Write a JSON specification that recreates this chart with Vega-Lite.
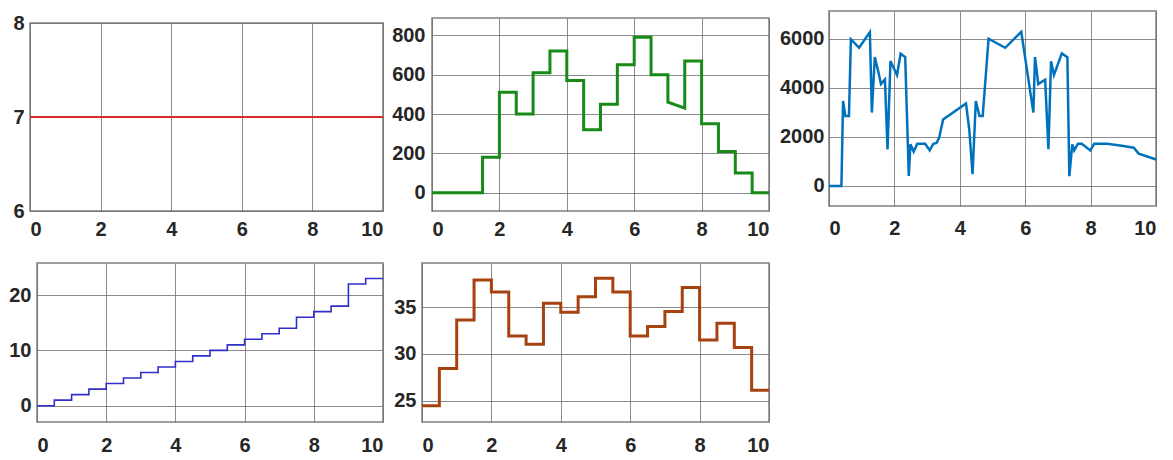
{
  "$schema": "https://vega.github.io/schema/vega-lite/v6.json",
  "background": "white",
  "padding": {"left": 0, "top": 10, "right": 0, "bottom": 0},
  "bounds": "full",
  "align": "none",
  "spacing": 22,
  "config": {
    "view": {"stroke": "#808080", "strokeWidth": 1.5},
    "axis": {
      "labelFont": "Liberation Sans",
      "labelFontSize": 20,
      "labelFontWeight": "bold",
      "labelColor": "#262626",
      "ticks": false,
      "tickSize": 0,
      "domain": false,
      "gridColor": "#6e6e6e",
      "gridWidth": 1,
      "gridOpacity": 0.8,
      "labelOverlap": false,
      "format": "d"
    }
  },
  "datasets": {
    "empty": [],
    "p1": [{"x": 0, "y": 7}, {"x": 10, "y": 7}],
    "p2": [
      {"i": 1, "x": 0, "y": 0}, {"i": 2, "x": 1.5, "y": 0}, {"i": 3, "x": 1.5, "y": 180}, {"i": 4, "x": 2, "y": 180},
      {"i": 5, "x": 2, "y": 510}, {"i": 6, "x": 2.5, "y": 510}, {"i": 7, "x": 2.5, "y": 400}, {"i": 8, "x": 3, "y": 400},
      {"i": 9, "x": 3, "y": 610}, {"i": 10, "x": 3.5, "y": 610}, {"i": 11, "x": 3.5, "y": 720}, {"i": 12, "x": 4, "y": 720},
      {"i": 13, "x": 4, "y": 570}, {"i": 14, "x": 4.5, "y": 570}, {"i": 15, "x": 4.5, "y": 320}, {"i": 16, "x": 5, "y": 320},
      {"i": 17, "x": 5, "y": 450}, {"i": 18, "x": 5.5, "y": 450}, {"i": 19, "x": 5.5, "y": 650}, {"i": 20, "x": 6, "y": 650},
      {"i": 21, "x": 6, "y": 790}, {"i": 22, "x": 6.5, "y": 790}, {"i": 23, "x": 6.5, "y": 600}, {"i": 24, "x": 7, "y": 600},
      {"i": 25, "x": 7, "y": 460}, {"i": 26, "x": 7.5, "y": 430}, {"i": 27, "x": 7.5, "y": 670}, {"i": 28, "x": 8, "y": 670},
      {"i": 29, "x": 8, "y": 350}, {"i": 30, "x": 8.5, "y": 350}, {"i": 31, "x": 8.5, "y": 210}, {"i": 32, "x": 9, "y": 210},
      {"i": 33, "x": 9, "y": 100}, {"i": 34, "x": 9.5, "y": 100}, {"i": 35, "x": 9.5, "y": 0}, {"i": 36, "x": 10, "y": 0}
    ],
    "p3": [
      {"x": 0, "y": 0}, {"x": 0.38, "y": 0}, {"x": 0.43, "y": 3460}, {"x": 0.5, "y": 2850}, {"x": 0.61, "y": 2850},
      {"x": 0.67, "y": 5980}, {"x": 0.92, "y": 5630}, {"x": 1.25, "y": 6270}, {"x": 1.31, "y": 2990}, {"x": 1.4, "y": 5250},
      {"x": 1.5, "y": 4700}, {"x": 1.59, "y": 4150}, {"x": 1.71, "y": 4340}, {"x": 1.79, "y": 1490}, {"x": 1.88, "y": 5090},
      {"x": 2.08, "y": 4520}, {"x": 2.19, "y": 5390}, {"x": 2.33, "y": 5250}, {"x": 2.44, "y": 410}, {"x": 2.49, "y": 1700},
      {"x": 2.59, "y": 1400}, {"x": 2.7, "y": 1720}, {"x": 2.94, "y": 1720}, {"x": 3.08, "y": 1450}, {"x": 3.19, "y": 1720},
      {"x": 3.29, "y": 1750}, {"x": 3.37, "y": 1970}, {"x": 3.49, "y": 2710}, {"x": 4.19, "y": 3360}, {"x": 4.29, "y": 2300},
      {"x": 4.39, "y": 480}, {"x": 4.49, "y": 3460}, {"x": 4.6, "y": 2850}, {"x": 4.7, "y": 2850}, {"x": 4.88, "y": 6000},
      {"x": 5.39, "y": 5630}, {"x": 5.88, "y": 6280}, {"x": 6.25, "y": 2990}, {"x": 6.3, "y": 5250}, {"x": 6.4, "y": 4150},
      {"x": 6.61, "y": 4330}, {"x": 6.71, "y": 1500}, {"x": 6.79, "y": 5080}, {"x": 6.88, "y": 4520}, {"x": 7.12, "y": 5400},
      {"x": 7.29, "y": 5250}, {"x": 7.35, "y": 400}, {"x": 7.44, "y": 1700}, {"x": 7.5, "y": 1450}, {"x": 7.61, "y": 1720},
      {"x": 7.73, "y": 1720}, {"x": 7.99, "y": 1450}, {"x": 8.11, "y": 1720}, {"x": 8.5, "y": 1720}, {"x": 8.9, "y": 1650},
      {"x": 9.32, "y": 1560}, {"x": 9.47, "y": 1320}, {"x": 9.98, "y": 1090}, {"x": 10, "y": 1080}
    ],
    "p4": [
      {"x": 0, "y": 0}, {"x": 0.5, "y": 1}, {"x": 1, "y": 2}, {"x": 1.5, "y": 3}, {"x": 2, "y": 4}, {"x": 2.5, "y": 5},
      {"x": 3, "y": 6}, {"x": 3.5, "y": 7}, {"x": 4, "y": 8}, {"x": 4.5, "y": 9}, {"x": 5, "y": 10}, {"x": 5.5, "y": 11},
      {"x": 6, "y": 12}, {"x": 6.5, "y": 13}, {"x": 7, "y": 14}, {"x": 7.5, "y": 16}, {"x": 8, "y": 17}, {"x": 8.5, "y": 18},
      {"x": 9, "y": 22}, {"x": 9.5, "y": 23}, {"x": 10, "y": 23}
    ],
    "p5": [
      {"x": 0, "y": 24.45}, {"x": 0.5, "y": 28.43}, {"x": 1, "y": 33.64}, {"x": 1.5, "y": 37.93}, {"x": 2, "y": 36.64},
      {"x": 2.5, "y": 31.93}, {"x": 3, "y": 31.04}, {"x": 3.5, "y": 35.43}, {"x": 4, "y": 34.46}, {"x": 4.5, "y": 36.14},
      {"x": 5, "y": 38.11}, {"x": 5.5, "y": 36.64}, {"x": 6, "y": 31.93}, {"x": 6.5, "y": 32.93}, {"x": 7, "y": 34.54},
      {"x": 7.5, "y": 37.11}, {"x": 8, "y": 31.5}, {"x": 8.5, "y": 33.29}, {"x": 9, "y": 30.68}, {"x": 9.5, "y": 26.1},
      {"x": 10, "y": 26.1}
    ]
  },
  "vconcat": [
    {
      "spacing": 0,
      "align": "none",
      "hconcat": [
        {"width": 1, "height": 1, "data": {"name": "empty"}, "mark": "point", "view": {"stroke": null}},
        {
          "spacing": 0,
          "align": "none",
          "vconcat": [
            {"width": 1, "height": 1, "data": {"name": "empty"}, "mark": "point", "view": {"stroke": null}},
            {
              "width": 353, "height": 188,
              "data": {"name": "p1"},
              "mark": {"type": "line", "color": "#d42a2a", "strokeWidth": 2},
              "encoding": {
                "x": {"field": "x", "type": "quantitative", "scale": {"domain": [0, 10], "nice": false}, "axis": {"title": null, "values": [0, 2, 4, 6, 8, 10], "labelPadding": 8}},
                "y": {"field": "y", "type": "quantitative", "scale": {"domain": [6, 8], "nice": false, "zero": false}, "axis": {"title": null, "values": [6, 7, 8], "labelPadding": 6, "minExtent": 28}}
              }
            }
          ]
        },
        {
          "spacing": 0,
          "align": "none",
          "vconcat": [
            {"width": 1, "height": 6, "data": {"name": "empty"}, "mark": "point", "view": {"stroke": null}},
            {
              "width": 337, "height": 193,
              "data": {"name": "p2"},
              "mark": {"type": "line", "color": "#178a17", "strokeWidth": 3},
              "encoding": {
                "x": {"field": "x", "type": "quantitative", "scale": {"domain": [0, 10], "nice": false}, "axis": {"title": null, "values": [0, 2, 4, 6, 8, 10], "labelPadding": 8}},
                "y": {"field": "y", "type": "quantitative", "scale": {"domain": [-93, 888], "nice": false, "zero": false}, "axis": {"title": null, "values": [0, 200, 400, 600, 800], "labelPadding": 7, "minExtent": 43}},
                "order": {"field": "i"}
              }
            }
          ]
        },
        {
          "width": 327, "height": 195,
          "data": {"name": "p3"},
          "mark": {"type": "line", "color": "#0072BD", "strokeWidth": 2.5},
          "encoding": {
            "x": {"field": "x", "type": "quantitative", "scale": {"domain": [0, 10], "nice": false}, "axis": {"title": null, "values": [0, 2, 4, 6, 8, 10], "labelPadding": 12}},
            "y": {"field": "y", "type": "quantitative", "scale": {"domain": [-815, 7128], "nice": false, "zero": false}, "axis": {"title": null, "values": [0, 2000, 4000, 6000], "labelPadding": 5, "minExtent": 52}}
          }
        }
      ]
    },
    {
      "spacing": 0,
      "align": "none",
      "hconcat": [
        {"width": 1, "height": 1, "data": {"name": "empty"}, "mark": "point", "view": {"stroke": null}},
        {
          "width": 346, "height": 159,
          "data": {"name": "p4"},
          "mark": {"type": "line", "color": "#2f2fcc", "strokeWidth": 1.6, "interpolate": "step-after"},
          "encoding": {
            "x": {"field": "x", "type": "quantitative", "scale": {"domain": [0, 10], "nice": false}, "axis": {"title": null, "values": [0, 2, 4, 6, 8, 10], "labelPadding": 13}},
            "y": {"field": "y", "type": "quantitative", "scale": {"domain": [-2.95, 25.8], "nice": false, "zero": false}, "axis": {"title": null, "values": [0, 10, 20], "labelPadding": 6, "minExtent": 35}}
          }
        },
        {
          "width": 347, "height": 159,
          "data": {"name": "p5"},
          "mark": {"type": "line", "color": "#a5420f", "strokeWidth": 3, "interpolate": "step-after"},
          "encoding": {
            "x": {"field": "x", "type": "quantitative", "scale": {"domain": [0, 10], "nice": false}, "axis": {"title": null, "values": [0, 2, 4, 6, 8, 10], "labelPadding": 13}},
            "y": {"field": "y", "type": "quantitative", "scale": {"domain": [22.7, 39.75], "nice": false, "zero": false}, "axis": {"title": null, "values": [25, 30, 35], "labelPadding": 6, "minExtent": 34}}
          }
        }
      ]
    }
  ]
}
